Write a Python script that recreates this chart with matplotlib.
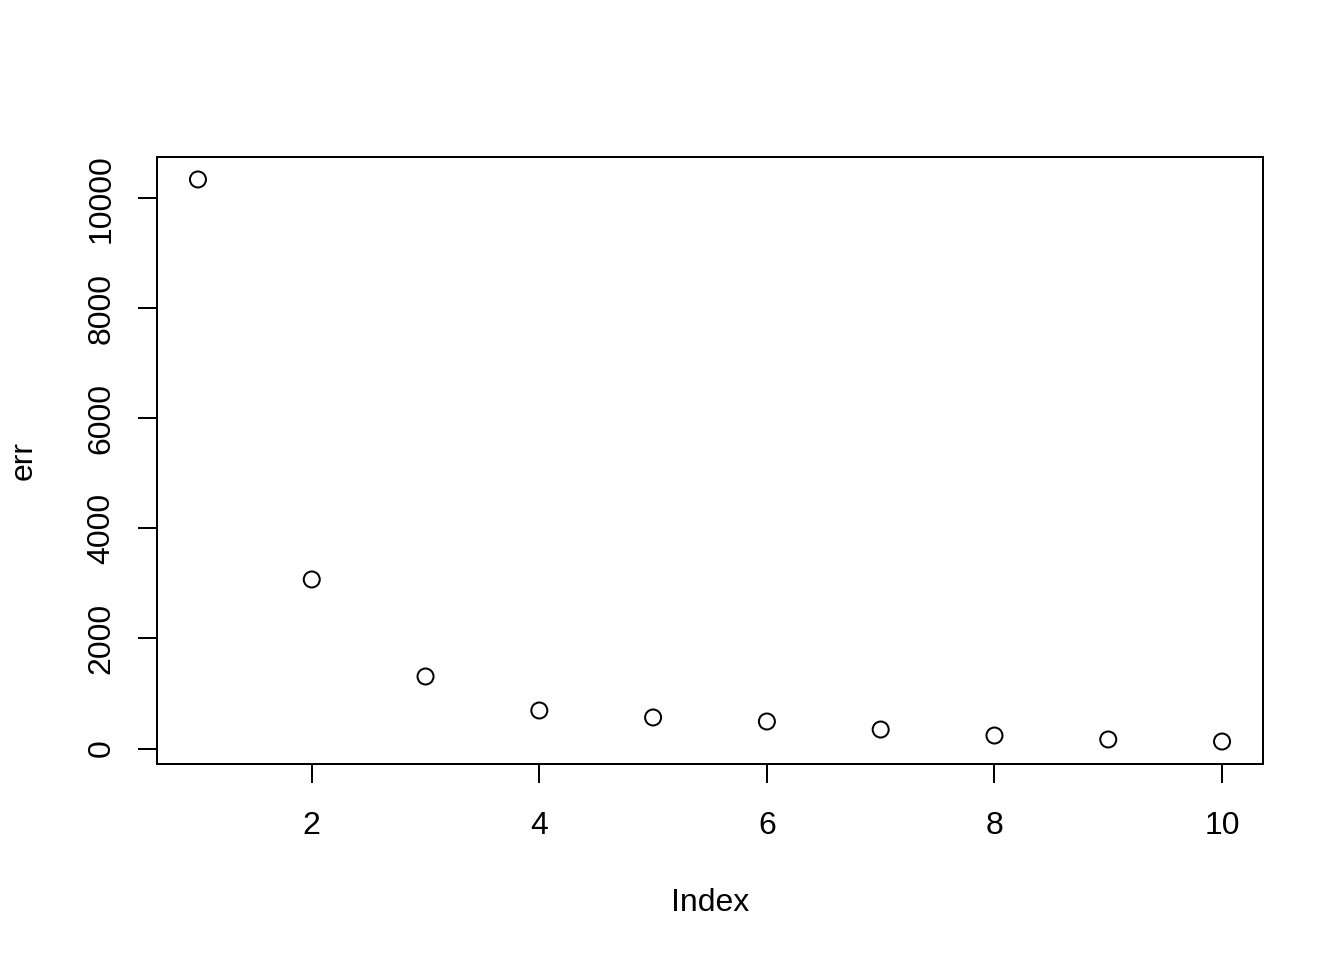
import matplotlib
matplotlib.use("Agg")
import matplotlib.pyplot as plt
from matplotlib.patches import Rectangle

index = [1, 2, 3, 4, 5, 6, 7, 8, 9, 10]
err = [10345, 3073, 1309, 691, 564, 491, 345, 236, 164, 127]
xticks = [2, 4, 6, 8, 10]
yticks = [0, 2000, 4000, 6000, 8000, 10000]

plt.rcParams['font.family'] = ['Liberation Sans', 'DejaVu Sans']
W, H = 1344, 960
dpi = 192
fig = plt.figure(figsize=(W / dpi, H / dpi), dpi=dpi)
L, R, T, B = 157, 1263, 157, 764
ax = fig.add_axes([L / W, 1 - B / H, (R - L) / W, (B - T) / H])

ax.scatter(index, err, s=36, facecolors='none', edgecolors='black', linewidths=0.75, zorder=3)

xr = max(index) - min(index)
ax.set_xlim(min(index) - 0.04 * xr, max(index) + 0.04 * xr)
yr = max(err) - min(err)
ax.set_ylim(min(err) - 0.04 * yr, max(err) + 0.04 * yr)

ax.set_xticks(xticks)
ax.set_yticks(yticks)
ax.set_yticklabels([str(v) for v in yticks])
ax.tick_params(axis='both', direction='out', length=7.2, width=0.75, labelsize=12, color='black')
ax.tick_params(axis='x', pad=10.5)
ax.tick_params(axis='y', pad=8)
for lbl in ax.get_yticklabels():
    lbl.set_rotation(90)
    lbl.set_va('center')
    lbl.set_ha('right')

ax.patch.set_visible(False)
fig.patches.append(Rectangle((L / W, 1 - B / H), (R - L) / W, (B - T) / H, transform=fig.transFigure,
                             fill=False, lw=0.75, ec='black'))
for s in ax.spines.values():
    s.set_visible(False)

fig.text(710 / W, 1 - 903 / H, 'Index', ha='center', va='center', fontsize=12)
fig.text(24 / W, 1 - 460 / H, 'err', ha='center', va='center', rotation=90, fontsize=12)

fig.savefig('out.png', dpi=dpi)
